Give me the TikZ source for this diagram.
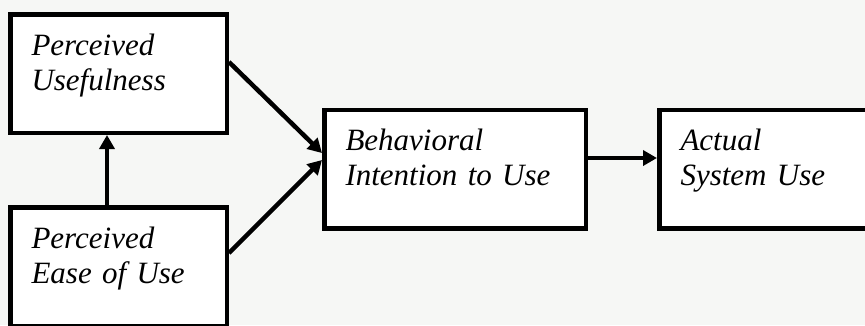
\documentclass[tikz,border=0pt]{standalone}
\usepackage{fontspec}
\setmainfont{Liberation Serif}
\usetikzlibrary{positioning}
\usetikzlibrary{arrows.meta}
\definecolor{paper}{RGB}{246,247,245}

\begin{document}
\begin{tikzpicture}[x=1pt,y=-1pt]
\tikzset{factor/.style={rectangle, draw, fill=white, line width=4.5pt, minimum width=216.5pt, minimum height=118.5pt, text width=174pt, align=left, inner xsep=21pt, text height=22pt, text depth=59pt, font=\itshape\fontsize{31}{35}\selectfont}}
\tikzset{wide/.style={minimum width=261.5pt, text width=219pt}}
\tikzset{link/.style={-{Triangle[length=14pt,width=15pt]}, line width=4.5pt}}
\useasboundingbox (0,0) rectangle (865,325);
\fill[paper] (0,0) rectangle (865,325);
\clip (0,0) rectangle (865,325);
% the four constructs
\node[factor] (pu) at (118.5,73.5) {Perceived\\Usefulness};
\node[factor, below=70pt of pu] (peu) {Perceived\\Ease of Use};
\node[factor, wide] (bi) at (455,169) {Behavioral\\Intention to Use};
\node[factor, right=69pt of bi] (asu) {Actual\\System Use};
% paths
\draw[link] ([yshift=11.5pt]pu.east) -- ([yshift=16pt]bi.west);
\draw[link] ([yshift=13.5pt]peu.east) -- ([yshift=9pt]bi.west);
\draw[link] ([xshift=-11.5pt]peu.north) -- ([xshift=-11.5pt]pu.south);
\draw[link] ([yshift=11pt]bi.east) -- ([yshift=11pt]asu.west);
\end{tikzpicture}
\end{document}
